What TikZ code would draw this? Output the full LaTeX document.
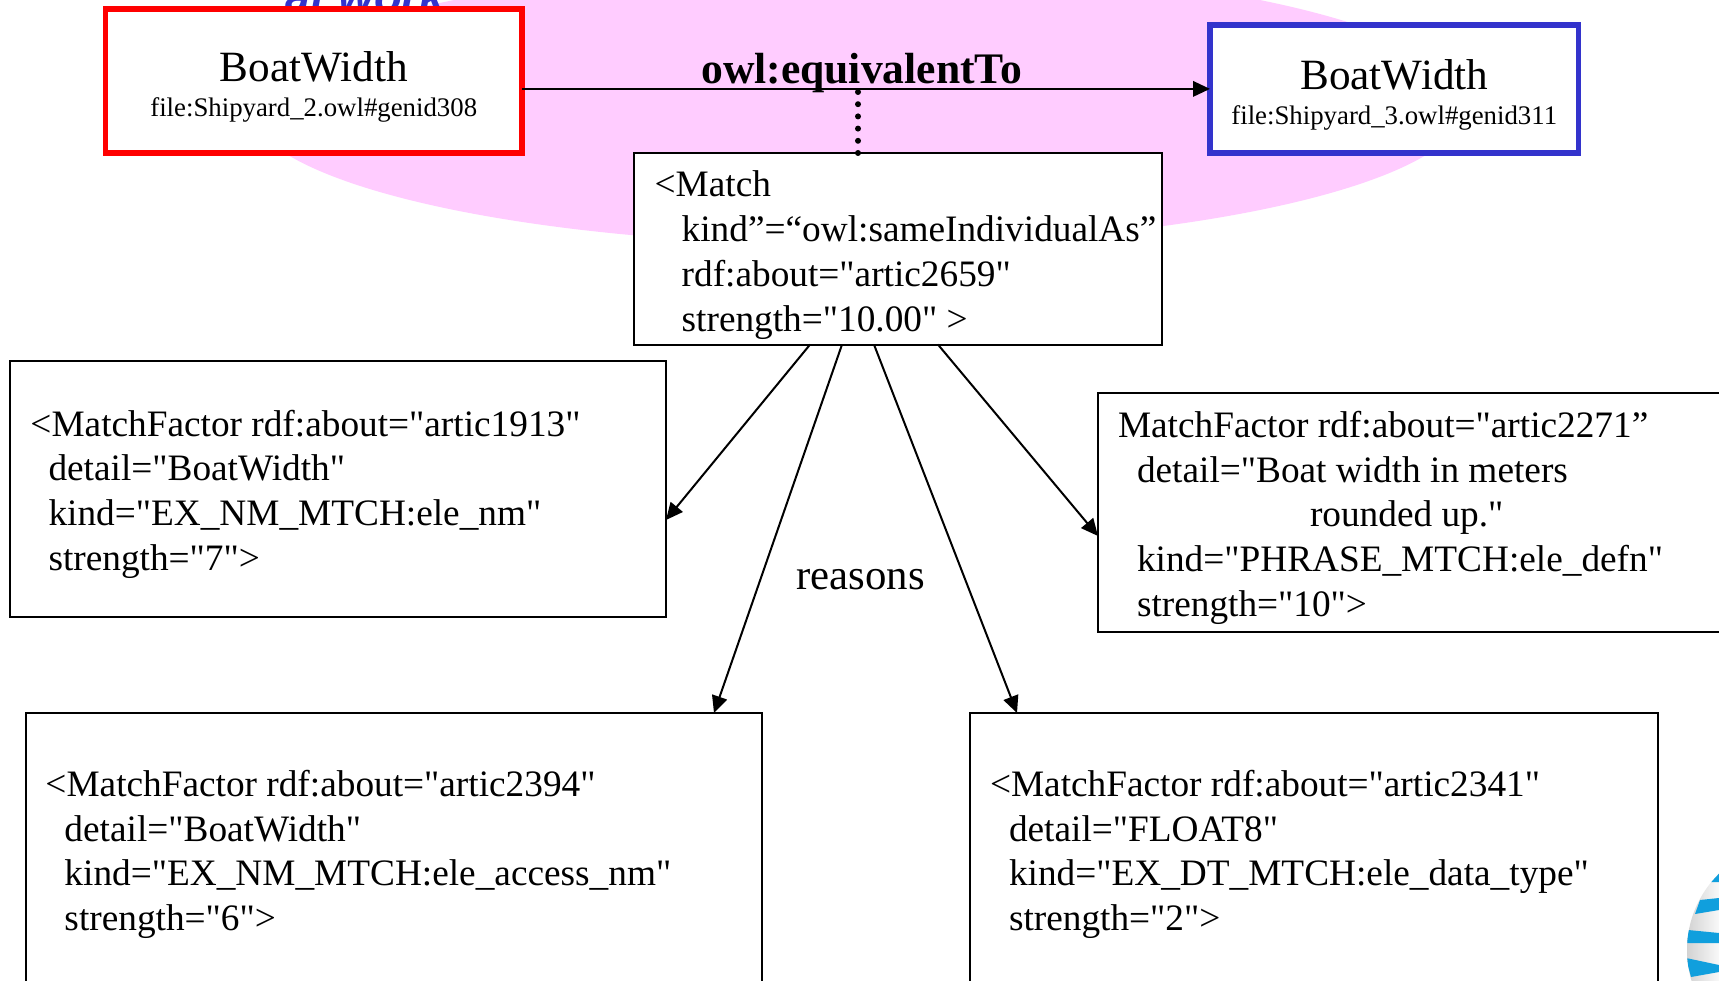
\documentclass[tikz,border=0pt]{standalone}
\usepackage{fontspec}
\setmainfont[Ligatures=TeXOff]{Liberation Serif}
\newfontfamily\logofont{Liberation Sans}
\usetikzlibrary{arrows.meta,calc}
\definecolor{pinkbg}{HTML}{FFCCFF}
\definecolor{boxblue}{HTML}{3333CC}
\definecolor{globeblue}{HTML}{109FDD}
\newcommand{\hgt}[1]{\rule{0pt}{#1pt}}
\newcommand{\dpt}[1]{\rule[-#1pt]{0pt}{#1pt}}
\newcommand{\ind}[1]{\hspace*{#1pt}}
\tikzset{
  anybox/.style={rectangle,draw=black,fill=white,line width=2pt,inner sep=0pt,outer sep=0pt,anchor=north west,align=left,
    font=\fontsize{37.3}{44.7}\selectfont,execute at begin node={\spaceskip=9.3pt\relax}},
  termbox/.style={rectangle,fill=white,line width=5.6pt,inner sep=0pt,outer sep=0pt,anchor=north west,align=center,
    font=\fontsize{43.2}{35}\selectfont},
  arrowline/.style={draw=black,line width=2pt,-{Triangle[length=17pt,width=15.5pt]}},
  biglabel/.style={inner sep=0pt,outer sep=0pt,font=\fontsize{42.8}{50}\selectfont},
}
\begin{document}
\begin{tikzpicture}[x=1pt,y=-1pt]
\useasboundingbox (0,0) rectangle (1719,981);
\clip (0,0) rectangle (1719,981);
\fill[white] (0,0) rectangle (1719,981);
% background ellipse and clipped title
\fill[pinkbg] (857,105) ellipse [x radius=609,y radius=140];
\node[inner sep=0pt,anchor=base west,text=boxblue,font=\logofont\bfseries\itshape\fontsize{45.7}{50}\selectfont] (title) at (285,13) {at work};
% globe logo
\begin{scope}
  \clip (1794,950) circle (107);
  \shade[left color=gray!35,right color=white!95!gray] (1687,840) rectangle (1719,981);
  \fill[globeblue] (1719,872) -- (1711,882) -- (1719,882) -- cycle;
  \fill[globeblue] (1700,900) -- (1719,898) -- (1719,910) -- (1695,914) -- cycle;
  \fill[globeblue] (1688,930) -- (1719,933) -- (1719,943) -- (1686,943) -- cycle;
  \fill[globeblue] (1686,958) -- (1719,965) -- (1719,972) -- (1691,977) -- cycle;
\end{scope}
% term boxes
\node[termbox,draw=red,text width=416.5pt] (left) at (105.5,8.8) {\hgt{73.2}BoatWidth\\{\fontsize{26.8}{35}\selectfont file:Shipyard\_2.owl\#genid308}\dpt{36}};
\node[termbox,draw=boxblue,text width=368.5pt] (right) at (1210,24.8) {\hgt{65.2}BoatWidth\\{\fontsize{26.8}{35}\selectfont file:Shipyard\_3.owl\#genid311}\dpt{28}};
% match box
\node[anybox,text width=528pt] (match) at (634,153.5) {\hgt{43.5}\ind{20.7}<Match\\
\ind{47.7}kind”=“owl:sameIndividualAs”\\
\ind{47.7}rdf:about="artic2659"\\
\ind{47.7}strength="10.00" >\dpt{13.5}};
% factor boxes
\node[anybox,text width=656pt] (fa) at (10,361.5) {\hgt{74.5}\ind{20.5}<MatchFactor rdf:about="artic1913"\\
\ind{38.5}detail="BoatWidth"\\
\ind{38.5}kind="EX\_NM\_MTCH:ele\_nm"\\
\ind{38.5}strength="7">\dpt{47}};
\node[anybox,text width=632pt] (fb) at (1098,393.5) {\hgt{44}\ind{20}MatchFactor rdf:about="artic2271”\\
\ind{39}detail="Boat width in meters\\
\ind{212}rounded up."\\
\ind{39}kind="PHRASE\_MTCH:ele\_defn"\\
\ind{39}strength="10">\dpt{16}};
\node[anybox,text width=736.5pt] (fc) at (25.5,713) {\hgt{83.5}\ind{20}<MatchFactor rdf:about="artic2394"\\
\ind{39}detail="BoatWidth"\\
\ind{39}kind="EX\_NM\_MTCH:ele\_access\_nm"\\
\ind{39}strength="6">\dpt{60}};
\node[anybox,text width=688pt] (fd) at (970,713) {\hgt{83.5}\ind{20}<MatchFactor rdf:about="artic2341"\\
\ind{39}detail="FLOAT8"\\
\ind{39}kind="EX\_DT\_MTCH:ele\_data\_type"\\
\ind{39}strength="2">\dpt{60}};
% connectors
\coordinate (eqmid) at (858,92);
\draw[arrowline] (left.east |- right.west) -- (right.west);
\draw[line width=6pt,line cap=round,dash pattern=on 0pt off 12.2pt] (eqmid) -- (match.north -| eqmid);
\node[biglabel,anchor=base,font=\bfseries\fontsize{43.6}{50}\selectfont] (eq) at (861.5,84) {owl:equivalentTo};
\draw[arrowline] ($(match.south west)+(176,0)$) -- ($(fa.north east)+(0,158.5)$);
\draw[arrowline] ($(match.south west)+(208,0)$) -- ($(fc.north west)+(688.5,0)$);
\draw[arrowline] ($(match.south west)+(240,0)$) -- ($(fd.north west)+(47,0)$);
\draw[arrowline] ($(match.south west)+(304,0)$) -- ($(fb.north west)+(0,142.5)$);
\node[biglabel,anchor=base] (reasons) at (860.5,589) {reasons};
\end{tikzpicture}
\end{document}
